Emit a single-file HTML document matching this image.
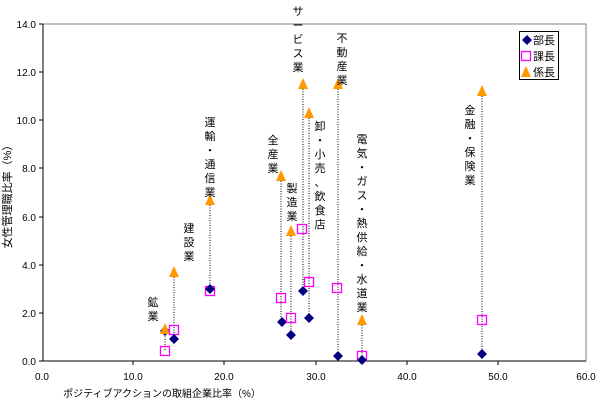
<!DOCTYPE html>
<html><head><meta charset="utf-8"><style>
body{margin:0;background:#fff}
svg{display:block;font-family:"Liberation Sans","Noto Sans CJK JP",sans-serif}
</style></head><body>
<svg width="600" height="403" viewBox="0 0 600 403" xmlns="http://www.w3.org/2000/svg">
<defs>
<g id="d"><path d="M0,-5 L5,0 L0,5 L-5,0Z" fill="#000080"/></g>
<g id="s"><rect x="-4.5" y="-4.5" width="9" height="9" fill="none" stroke="#ff00ff" stroke-width="1.3"/></g>
<g id="t"><path d="M0,-6 L5,5 L-5,5Z" fill="#ff9900"/></g>
</defs>
<rect x="43" y="24" width="543" height="337" fill="none" stroke="#808080" stroke-width="1"/>
<line x1="43" y1="24" x2="43" y2="361" stroke="#000"/>
<line x1="43" y1="361" x2="586" y2="361" stroke="#000"/>
<g stroke="#000">
<line x1="39" y1="24" x2="43" y2="24"/><line x1="39" y1="72" x2="43" y2="72"/><line x1="39" y1="120" x2="43" y2="120"/><line x1="39" y1="168" x2="43" y2="168"/><line x1="39" y1="217" x2="43" y2="217"/><line x1="39" y1="265" x2="43" y2="265"/><line x1="39" y1="313" x2="43" y2="313"/><line x1="39" y1="361" x2="43" y2="361"/>
<line x1="133" y1="361" x2="133" y2="365"/><line x1="224" y1="361" x2="224" y2="365"/><line x1="316" y1="361" x2="316" y2="365"/><line x1="407" y1="361" x2="407" y2="365"/><line x1="498" y1="361" x2="498" y2="365"/>
</g>
<g font-size="10" text-anchor="end">
<text x="36" y="28">14.0</text><text x="36" y="76">12.0</text><text x="36" y="124">10.0</text><text x="36" y="172">8.0</text><text x="36" y="221">6.0</text><text x="36" y="269">4.0</text><text x="36" y="317">2.0</text><text x="36" y="365">0.0</text>
</g>
<g font-size="10" text-anchor="middle">
<text x="42" y="380">0.0</text><text x="133" y="380">10.0</text><text x="224" y="380">20.0</text><text x="316" y="380">30.0</text><text x="407" y="380">40.0</text><text x="498" y="380">50.0</text><text x="586" y="380">60.0</text>
</g>
<text x="162" y="397" font-size="10" text-anchor="middle">ポジティブアクションの取組企業比率（%）</text>
<text transform="translate(11,194) rotate(-90)" font-size="11" text-anchor="middle">女性管理職比率（%）</text>
<g stroke="#000" stroke-dasharray="1,1.5" stroke-width="1">
<line x1="165" y1="329" x2="165" y2="351"/>
<line x1="174" y1="272" x2="174" y2="339"/>
<line x1="210" y1="200" x2="210" y2="289"/>
<line x1="281" y1="176" x2="281" y2="322"/>
<line x1="291" y1="231" x2="291" y2="335"/>
<line x1="303" y1="84" x2="303" y2="291"/>
<line x1="309" y1="113" x2="309" y2="318"/>
<line x1="338" y1="84" x2="338" y2="356"/>
<line x1="362" y1="320" x2="362" y2="360"/>
<line x1="482" y1="91" x2="482" y2="354"/>
</g>
<use href="#s" x="165" y="351"/><use href="#d" x="165" y="331"/><use href="#t" x="165" y="329"/>
<use href="#s" x="174" y="330"/><use href="#d" x="174" y="339"/><use href="#t" x="174" y="272"/>
<use href="#s" x="210" y="291"/><use href="#d" x="210" y="289"/><use href="#t" x="210" y="200"/>
<use href="#s" x="281" y="298"/><use href="#d" x="282" y="322"/><use href="#t" x="281" y="176"/>
<use href="#s" x="291" y="318"/><use href="#d" x="291" y="335"/><use href="#t" x="291" y="231"/>
<use href="#s" x="302" y="229"/><use href="#d" x="303" y="291"/><use href="#t" x="303" y="84"/>
<use href="#s" x="309" y="282"/><use href="#d" x="309" y="318"/><use href="#t" x="309" y="113"/>
<use href="#s" x="337" y="288"/><use href="#d" x="338" y="356"/><use href="#t" x="338" y="84"/>
<use href="#s" x="362" y="356"/><use href="#d" x="362" y="360"/><use href="#t" x="362" y="320"/>
<use href="#s" x="482" y="320"/><use href="#d" x="482" y="354"/><use href="#t" x="482" y="91"/>
<g font-size="11" text-anchor="middle">
<text x="298" y="15"><tspan x="298">サ</tspan><tspan x="298" dy="14">ー</tspan><tspan x="298" dy="14">ビ</tspan><tspan x="298" dy="14">ス</tspan><tspan x="298" dy="14">業</tspan></text>
<text x="342" y="42"><tspan x="342">不</tspan><tspan x="342" dy="14">動</tspan><tspan x="342" dy="14">産</tspan><tspan x="342" dy="14">業</tspan></text>
<text x="210" y="126"><tspan x="210">運</tspan><tspan x="210" dy="14">輸</tspan><tspan x="210" dy="14">・</tspan><tspan x="210" dy="14">通</tspan><tspan x="210" dy="14">信</tspan><tspan x="210" dy="14">業</tspan></text>
<text x="273" y="144"><tspan x="273">全</tspan><tspan x="273" dy="14">産</tspan><tspan x="273" dy="14">業</tspan></text>
<text x="292" y="192"><tspan x="292">製</tspan><tspan x="292" dy="14">造</tspan><tspan x="292" dy="14">業</tspan></text>
<text x="320" y="130"><tspan x="320">卸</tspan><tspan x="320" dy="14">・</tspan><tspan x="320" dy="14">小</tspan><tspan x="320" dy="14">売</tspan><tspan x="320" dy="14">、</tspan><tspan x="320" dy="14">飲</tspan><tspan x="320" dy="14">食</tspan><tspan x="320" dy="14">店</tspan></text>
<text x="362" y="143"><tspan x="362">電</tspan><tspan x="362" dy="14">気</tspan><tspan x="362" dy="14">・</tspan><tspan x="362" dy="14">ガ</tspan><tspan x="362" dy="14">ス</tspan><tspan x="362" dy="14">・</tspan><tspan x="362" dy="14">熱</tspan><tspan x="362" dy="14">供</tspan><tspan x="362" dy="14">給</tspan><tspan x="362" dy="14">・</tspan><tspan x="362" dy="14">水</tspan><tspan x="362" dy="14">道</tspan><tspan x="362" dy="14">業</tspan></text>
<text x="470" y="114"><tspan x="470">金</tspan><tspan x="470" dy="14">融</tspan><tspan x="470" dy="14">・</tspan><tspan x="470" dy="14">保</tspan><tspan x="470" dy="14">険</tspan><tspan x="470" dy="14">業</tspan></text>
<text x="189" y="232"><tspan x="189">建</tspan><tspan x="189" dy="14">設</tspan><tspan x="189" dy="14">業</tspan></text>
<text x="153" y="306"><tspan x="153">鉱</tspan><tspan x="153" dy="14">業</tspan></text>
</g>
<rect x="519.5" y="31.5" width="39" height="48" fill="#fff" stroke="#000"/>
<use href="#d" x="527" y="40"/><use href="#s" x="526" y="56"/><use href="#t" x="526" y="72"/>
<g font-size="11"><text x="533" y="44">部長</text><text x="533" y="60">課長</text><text x="533" y="76">係長</text></g>
</svg>
</body></html>
